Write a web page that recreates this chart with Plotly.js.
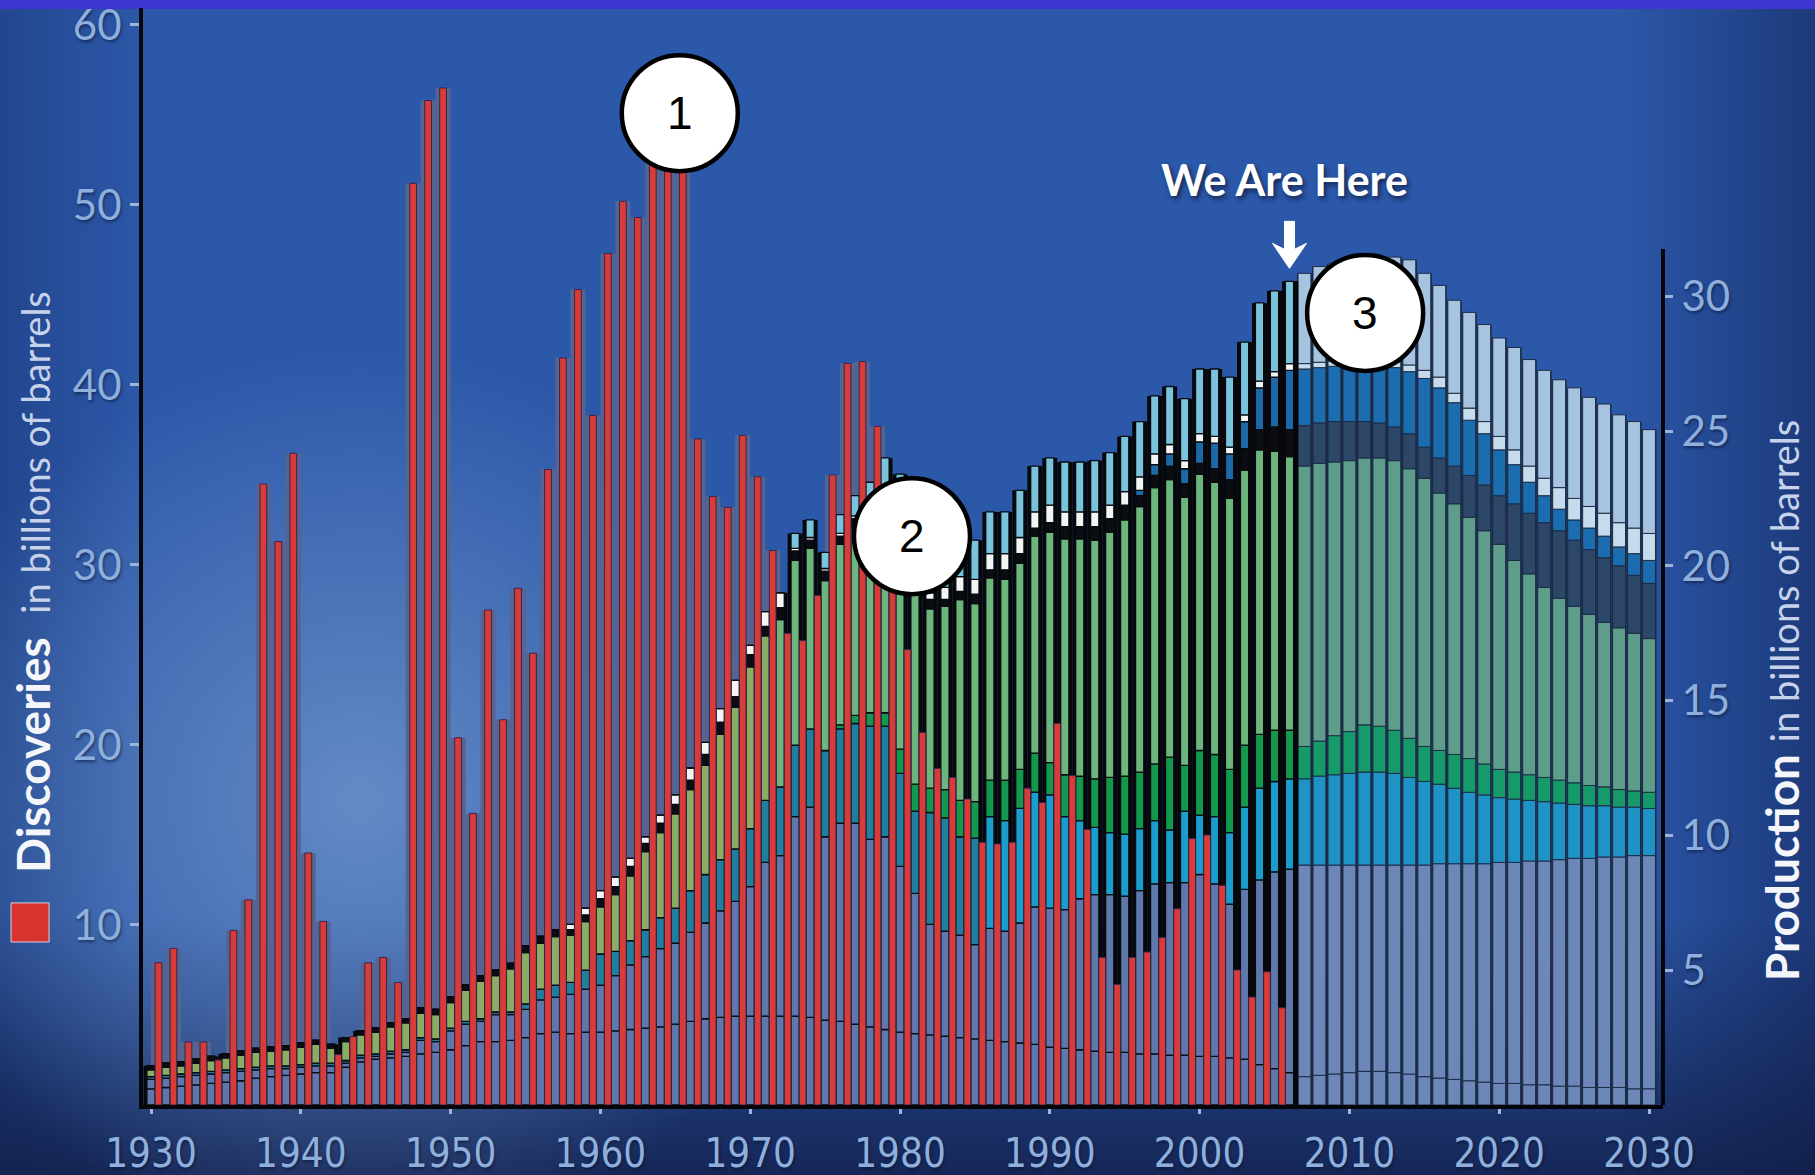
<!DOCTYPE html>
<html>
<head>
<meta charset="utf-8">
<script src="https://cdn.plot.ly/plotly-3.0.1.min.js"></script>
<style>
  html, body { margin: 0; padding: 0; }
  body {
    width: 1815px; height: 1175px; overflow: hidden;
    background:
      linear-gradient(to bottom, #3b37cf 0, #3b37cf 9px, rgba(0,0,0,0) 9px),
      radial-gradient(ellipse 620px 600px at 360px 800px, rgba(135,170,215,0.62), rgba(135,170,215,0) 75%),
      linear-gradient(to bottom, rgba(0,0,0,0) 0%, rgba(0,0,0,0) 78%, rgba(14,22,58,0.75) 100%),
      linear-gradient(to right, rgba(12,30,80,0.3) 0%, rgba(0,0,0,0) 8%, rgba(0,0,0,0) 89%, rgba(14,28,78,0.5) 100%),
      #2c58a9;
  }
  #chart { width: 1815px; height: 1175px; }
</style>
</head>
<body>
<div id="chart"></div>
<script>
// ---- years ----
const productionYears = [
  1930,1931,1932,1933,1934,1935,1936,1937,1938,1939,
  1940,1941,1942,1943,1944,1945,1946,1947,1948,1949,
  1950,1951,1952,1953,1954,1955,1956,1957,1958,1959,
  1960,1961,1962,1963,1964,1965,1966,1967,1968,1969,
  1970,1971,1972,1973,1974,1975,1976,1977,1978,1979,
  1980,1981,1982,1983,1984,1985,1986,1987,1988,1989,
  1990,1991,1992,1993,1994,1995,1996,1997,1998,1999,
  2000,2001,2002,2003,2004,2005,2006,
  2007,2008,2009,2010,2011,2012,2013,2014,2015,2016,2017,2018,2019,
  2020,2021,2022,2023,2024,2025,2026,2027,2028,2029,2030
];
const lastActualYear = 2006;

const discoveryYears = [
  1930,1931,1932,1933,1934,1935,1936,1937,1938,1939,
  1940,1941,1942,1943,1944,1945,1946,1947,1948,1949,
  1950,1951,1952,1953,1954,1955,1956,1957,1958,1959,
  1960,1961,1962,1963,1964,1965,1966,1967,1968,1969,
  1970,1971,1972,1973,1974,1975,1976,1977,1978,1979,
  1980,1981,1982,1983,1984,1985,1986,1987,1988,1989,
  1990,1991,1992,1993,1994,1995,1996,1997,1998,1999,
  2000,2001,2002,2003,2004,2005
];

// ---- discoveries, billions of barrels ----
const discoveries = [
  7.9,8.7,3.5,3.5,2.5,9.7,11.4,34.5,31.3,36.2,
  14.0,10.2,2.8,3.8,7.9,8.2,6.8,51.2,55.8,56.5,
  20.4,16.2,27.5,21.4,28.7,25.1,35.3,41.5,45.3,38.3,
  47.3,50.2,49.3,54.0,55.0,53.5,37.0,33.8,33.2,37.2,
  34.9,30.8,26.2,25.8,28.3,35.0,41.2,41.3,37.7,30.0,
  25.3,20.7,18.7,18.2,17.0,14.6,14.5,14.6,17.6,16.8,
  21.2,18.3,15.3,8.2,6.7,8.2,8.5,9.3,10.9,14.8,
  15.0,12.2,7.5,6.0,7.4,5.4
];

// ---- production, billions of barrels: upper edge of each stacked band ----
const slateLowTop = [
  0.6,0.65,0.7,0.75,0.8,0.85,0.9,1.0,1.05,1.1,
  1.15,1.2,1.2,1.4,1.6,1.7,1.75,1.8,1.9,1.95,
  2.05,2.2,2.35,2.35,2.4,2.5,2.65,2.7,2.65,2.7,
  2.7,2.75,2.8,2.85,2.9,3.0,3.1,3.2,3.25,3.3,
  3.3,3.3,3.3,3.3,3.25,3.15,3.1,3.0,2.9,2.8,
  2.7,2.65,2.6,2.55,2.5,2.45,2.4,2.35,2.3,2.25,
  2.15,2.1,2.05,2.0,1.95,1.95,1.9,1.9,1.85,1.85,
  1.8,1.8,1.75,1.7,1.5,1.35,1.2,
  1.05,1.1,1.15,1.2,1.25,1.25,1.2,1.15,1.05,1.0,0.95,0.9,0.85,
  0.8,0.8,0.75,0.75,0.7,0.7,0.65,0.65,0.65,0.6,0.6
];
const slateTop = [
  0.95,1.0,1.05,1.1,1.15,1.2,1.25,1.3,1.35,1.35,
  1.4,1.45,1.45,1.55,1.75,1.8,1.9,1.95,2.4,2.35,
  2.75,3.0,3.1,3.35,3.35,3.55,3.9,4.0,4.1,4.3,
  4.45,4.8,5.2,5.5,5.8,6.0,6.4,6.75,7.2,7.55,
  8.1,9.0,9.25,10.7,11.05,9.95,10.45,10.45,9.85,9.95,
  8.85,7.85,6.7,6.45,6.3,5.95,6.55,6.45,6.75,7.35,
  7.3,7.25,7.65,7.8,7.8,7.75,7.95,8.2,8.25,8.25,
  8.55,8.2,7.45,8.0,8.35,8.65,8.75,
  8.9,8.9,8.9,8.9,8.9,8.9,8.9,8.9,8.9,8.95,8.95,8.95,8.95,
  9.0,9.0,9.05,9.05,9.1,9.15,9.15,9.2,9.2,9.25,9.25
];
const tealTop = [
  1.05,1.1,1.15,1.2,1.25,1.3,1.35,1.4,1.45,1.45,
  1.5,1.55,1.55,1.65,1.85,1.9,2.0,2.05,2.5,2.45,
  2.85,3.1,3.2,3.45,3.45,3.75,4.3,4.45,4.55,5.0,
  5.6,5.7,6.1,6.5,6.95,7.3,7.95,8.55,9.1,9.5,
  10.25,11.3,11.8,13.35,13.95,13.15,13.95,14.15,14.05,14.05,
  12.3,10.9,10.85,10.65,9.95,9.9,10.7,10.55,11.0,11.6,
  11.5,10.7,10.55,10.3,10.1,10.05,10.25,10.55,10.2,10.9,
  10.75,10.7,10.1,11.05,11.75,12.0,12.1,
  12.1,12.2,12.25,12.3,12.35,12.35,12.3,12.15,12.0,11.9,11.75,11.6,11.5,
  11.4,11.35,11.3,11.25,11.2,11.15,11.1,11.1,11.05,11.05,11.0
];
const darkGreenTop = [
  1.05,1.1,1.15,1.2,1.25,1.3,1.35,1.4,1.45,1.45,
  1.5,1.55,1.55,1.65,1.85,1.9,2.0,2.05,2.5,2.45,
  2.85,3.1,3.2,3.45,3.45,3.75,4.3,4.45,4.55,5.0,
  5.6,5.7,6.1,6.5,6.95,7.3,7.95,8.55,9.1,9.5,
  10.25,11.3,11.8,13.35,13.95,13.15,14.1,14.45,14.55,14.55,
  13.2,11.9,11.75,11.7,11.3,11.25,12.05,12.05,12.45,13.05,
  12.7,12.25,12.2,12.1,12.15,12.2,12.35,12.65,12.9,12.6,
  13.15,13.0,12.45,13.35,13.75,13.9,13.9,
  13.3,13.5,13.7,13.85,14.1,14.05,13.9,13.6,13.3,13.15,13.0,12.85,12.65,
  12.45,12.35,12.25,12.15,12.05,11.95,11.85,11.8,11.7,11.65,11.6
];
const lightGreenTop = [
  1.3,1.4,1.45,1.55,1.65,1.75,1.85,1.95,2.0,2.05,
  2.15,2.25,2.1,2.35,2.6,2.7,2.9,3.05,3.4,3.35,
  3.8,4.25,4.6,4.8,5.05,5.65,6.0,6.25,6.3,6.8,
  7.35,7.8,8.5,9.4,10.1,10.8,11.7,12.6,13.75,14.75,
  16.25,17.4,18.0,20.2,20.65,19.45,20.8,21.4,21.9,22.55,
  21.6,20.2,18.4,18.5,18.75,18.6,19.55,19.5,20.1,21.1,
  21.25,21.0,21.0,20.95,21.25,21.7,22.2,22.9,23.2,22.55,
  23.4,23.1,22.5,23.55,24.3,24.25,24.05,
  23.7,23.8,23.85,23.9,24.0,24.0,23.9,23.6,23.25,22.7,22.3,21.8,21.3,
  20.8,20.2,19.7,19.2,18.8,18.5,18.2,17.9,17.7,17.5,17.3
];
const blackTop = [
  1.45,1.55,1.6,1.7,1.8,1.9,2.0,2.1,2.15,2.2,
  2.3,2.4,2.25,2.5,2.75,2.85,3.05,3.2,3.6,3.55,
  4.0,4.45,4.8,5.0,5.25,5.9,6.25,6.5,6.5,7.05,
  7.65,8.1,8.85,9.7,10.45,11.15,12.05,13.0,14.2,15.15,
  16.7,17.75,18.45,20.55,20.95,19.8,21.1,21.75,22.25,22.9,
  21.95,20.55,18.75,18.75,19.05,18.95,19.85,19.85,20.45,21.4,
  21.6,21.45,21.45,21.45,21.75,22.25,22.6,23.35,23.7,23.05,
  23.8,23.6,23.2,24.35,25.05,25.15,25.05,
  25.2,25.3,25.35,25.35,25.35,25.3,25.15,24.9,24.4,24.0,23.7,23.35,23.0,
  22.6,22.3,21.95,21.6,21.3,20.95,20.6,20.3,20.0,19.65,19.35
];
const blueTop = [
  1.45,1.55,1.6,1.7,1.8,1.9,2.0,2.1,2.15,2.2,
  2.3,2.4,2.25,2.5,2.75,2.85,3.05,3.2,3.6,3.55,
  4.0,4.45,4.8,5.0,5.25,5.9,6.25,6.5,6.5,7.05,
  7.65,8.1,8.85,9.7,10.45,11.15,12.05,13.0,14.2,15.15,
  16.7,17.75,18.45,20.55,20.95,19.8,21.1,21.75,22.25,22.9,
  21.95,20.55,18.75,18.75,19.05,18.95,19.85,19.85,20.45,21.4,
  21.6,21.45,21.45,21.45,21.75,22.25,22.8,23.75,24.15,23.6,
  24.6,24.55,24.15,25.35,26.6,27.0,27.25,
  27.3,27.35,27.4,27.4,27.4,27.4,27.35,27.2,26.95,26.6,26.05,25.4,24.9,
  24.3,23.75,23.1,22.6,22.1,21.7,21.4,21.1,20.7,20.45,20.2
];
const whiteTop = [
  1.45,1.55,1.6,1.7,1.8,1.9,2.0,2.1,2.15,2.2,
  2.3,2.4,2.25,2.5,2.75,2.85,3.05,3.2,3.6,3.55,
  4.0,4.45,4.8,5.0,5.25,5.9,6.25,6.5,6.7,7.3,
  7.95,8.45,9.15,9.95,10.75,11.5,12.5,13.45,14.7,15.75,
  17.05,18.3,19.0,20.65,21.05,19.9,21.2,21.85,22.35,23.0,
  22.2,20.8,19.0,19.2,19.6,19.5,20.45,20.45,21.05,22.0,
  22.25,22.0,22.0,22.0,22.25,22.75,23.3,24.15,24.5,23.9,
  24.9,24.8,24.4,25.6,26.85,27.2,27.5,
  27.5,27.55,27.6,27.6,27.6,27.6,27.55,27.45,27.25,27.0,26.4,25.85,25.35,
  24.8,24.3,23.7,23.25,22.9,22.5,22.2,21.95,21.6,21.4,21.2
];
const totalProduction = [
  1.45,1.55,1.6,1.7,1.8,1.9,2.0,2.1,2.15,2.2,
  2.3,2.4,2.25,2.5,2.75,2.85,3.05,3.2,3.6,3.55,
  4.0,4.45,4.8,5.0,5.25,5.9,6.25,6.5,6.7,7.3,
  7.95,8.45,9.15,9.95,10.75,11.5,12.5,13.45,14.7,15.75,
  17.05,18.3,19.0,21.2,21.7,20.5,21.9,22.6,23.1,24.0,
  23.4,22.0,20.3,20.5,20.85,20.95,22.0,22.0,22.8,23.7,
  24.0,23.85,23.85,23.9,24.2,24.8,25.35,26.3,26.65,26.2,
  27.3,27.3,27.0,28.3,29.75,30.2,30.55,
  30.85,31.1,31.2,31.3,31.35,31.4,31.45,31.35,30.85,30.4,29.85,29.4,28.95,
  28.45,28.1,27.65,27.25,26.9,26.6,26.25,26.0,25.6,25.35,25.05
];

// ---- axis ticks ----
const decadeTicks = [1930,1940,1950,1960,1970,1980,1990,2000,2010,2020,2030];
const discoveryTicks = [10,20,30,40,50,60];
const productionTicks = [5,10,15,20,25,30];

// ---- styling ----
const isForecast = productionYears.map(y => y > lastActualYear);
const histWidth = 0.55, projWidth = 0.86;
const prodWidths = isForecast.map(f => f ? projWidth : histWidth);
const prodOffsets = prodWidths.map(w => -w / 2);
const lineColors = isForecast.map(f => f ? '#1d2c46' : '#07090d');
const lineWidths = isForecast.map(f => f ? 1 : 1.3);

const bands = [
  { top: slateLowTop,   color: y => y > lastActualYear ? '#6d88b8' : '#5d78a9' },
  { top: slateTop,      color: y => y > lastActualYear ? '#6d88b8' : '#5d78a9' },
  { top: tealTop,       color: y => y > lastActualYear ? '#1f93c5' : (y < 1986 ? '#1e809d' : '#1a9dcc') },
  { top: darkGreenTop,  color: y => y > lastActualYear ? '#169a69' : '#12994d' },
  { top: lightGreenTop, color: y => y > lastActualYear ? '#5f9d8b' : (y < 1972 ? '#8aad66' : '#6cb67e') },
  { top: blackTop,      color: y => y > lastActualYear ? '#2c4767' : '#0b0d12' },
  { top: blueTop,       color: y => y > lastActualYear ? '#1c6daf' : '#1b69a6' },
  { top: whiteTop,      color: y => y > lastActualYear ? '#c6dbeb' : '#f3f5f5' },
  { top: totalProduction, color: y => y > lastActualYear ? '#a6c3df' : '#79c3dd' }
];

const traces = [];

// soft dark band between tall discovery bars (main subplot, drawn first)
traces.push({
  type: 'bar', x: discoveryYears, y: discoveries, yaxis: 'y',
  width: 1.0, offset: 0,
  marker: { color: '#56658f', line: { width: 0 } },
  hoverinfo: 'skip'
});

// dark backing behind the production columns
traces.push({
  type: 'bar', x: productionYears, y: totalProduction, yaxis: 'y2',
  width: 1.0, offset: -0.5,
  marker: { color: isForecast.map(f => f ? '#1c2a44' : '#06080c'), line: { width: 0 } },
  hoverinfo: 'skip'
});

// stacked production bands
let lower = productionYears.map(() => 0);
bands.forEach(b => {
  traces.push({
    type: 'bar', x: productionYears, yaxis: 'y2',
    base: lower.slice(),
    y: b.top.map((v, i) => v - lower[i]),
    width: prodWidths, offset: prodOffsets,
    marker: {
      color: productionYears.map(b.color),
      line: { color: lineColors, width: lineWidths }
    },
    hoverinfo: 'skip'
  });
  lower = b.top;
});

// discovery bars, on top
traces.push({
  type: 'bar', x: discoveryYears, y: discoveries, yaxis: 'y3',
  width: 0.45, offset: 0.275,
  marker: { color: '#d93b37', line: { color: '#3a2350', width: 1 } },
  hoverinfo: 'skip'
});

const tickFontX = { family: 'DejaVu Sans Condensed, Liberation Sans Narrow, sans-serif', size: 40, color: '#8fb0dc', shadow: '1px 2px 3px rgba(8,16,50,0.55)' };
const tickFontY = { family: 'Lato, sans-serif', size: 42, color: '#8fb0dc', shadow: '1px 2px 3px rgba(8,16,50,0.55)' };
const lastIdx = productionYears.indexOf(lastActualYear);

const circle = (x, y) => ({
  type: 'circle', xref: 'x', yref: 'y', layer: 'above',
  xsizemode: 'pixel', ysizemode: 'pixel', xanchor: x, yanchor: y,
  x0: -58, x1: 58, y0: -58, y1: 58,
  fillcolor: '#ffffff', line: { color: '#000000', width: 4.5 }
});
const circleLabel = (x, y, t) => ({
  x: x, y: y, xref: 'x', yref: 'y', text: t, showarrow: false,
  xanchor: 'center', yanchor: 'middle',
  font: { family: 'Liberation Sans, Arial, sans-serif', size: 46, color: '#000000' }
});

const markers = [
  { x: 1965.3, y: 55.1, label: '1' },
  { x: 1980.8, y: 31.6, label: '2' },
  { x: 2011.05, y: 44.0, label: '3' }
];

const layout = {
  width: 1815, height: 1175,
  margin: { l: 143, r: 152, t: 8, b: 70, pad: 0 },
  paper_bgcolor: 'rgba(0,0,0,0)', plot_bgcolor: 'rgba(0,0,0,0)',
  barmode: 'overlay', showlegend: false, hovermode: false,
  xaxis: {
    range: [1929.466, 2030.934], tickvals: decadeTicks,
    showline: true, linecolor: '#04060a', linewidth: 4,
    ticks: 'outside', ticklen: 5, tickwidth: 3, tickcolor: '#9db5dc',
    tickfont: tickFontX, showgrid: false, zeroline: false, fixedrange: true,
    ticklabelstandoff: 5, ticklabeloverflow: 'allow'
  },
  yaxis: {
    range: [0, 60.94], tickvals: discoveryTicks, side: 'left',
    showline: true, linecolor: '#04060a', linewidth: 4,
    ticks: 'outside', ticklen: 9, tickwidth: 3, tickcolor: '#9cb4da',
    tickfont: tickFontY, showgrid: false, zeroline: false, fixedrange: true,
    ticklabeloverflow: 'allow'
  },
  yaxis2: {
    range: [0, 40.69], overlaying: 'y', side: 'right', tickvals: productionTicks,
    showline: false, ticks: 'outside', ticklen: 9, tickwidth: 3, tickcolor: '#9cb4da',
    tickfont: tickFontY, showgrid: false, zeroline: false, fixedrange: true
  },
  yaxis3: { range: [0, 60.94], overlaying: 'y', visible: false, fixedrange: true },
  shapes: [
    // production axis spine
    { type: 'line', xref: 'paper', yref: 'y2', x0: 1, x1: 1, y0: 0, y1: 31.75,
      line: { color: '#04060a', width: 4 } },
    // boundary between recorded and projected production
    { type: 'line', xref: 'x', yref: 'y2', x0: lastActualYear + 0.5, x1: lastActualYear + 0.5,
      y0: 0, y1: totalProduction[lastIdx], line: { color: '#04060a', width: 2.5 } },
    // legend swatch for discoveries
    { type: 'rect', xref: 'paper', yref: 'paper', x0: -0.0868, x1: -0.0618, y0: 0.1486, y1: 0.1842,
      fillcolor: '#d8332f', line: { color: '#d8d0d8', width: 1 } },
    // "we are here" arrow
    { type: 'path', xref: 'x', yref: 'y2', xsizemode: 'pixel', ysizemode: 'pixel',
      xanchor: lastActualYear, yanchor: totalProduction[lastIdx], layer: 'above',
      path: 'M 0 13 L -17 38 L -5 32 L -5 60 L 5 60 L 5 32 L 17 38 Z',
      fillcolor: '#ffffff', line: { color: '#ffffff', width: 1 } }
  ].concat(markers.map(m => circle(m.x, m.y))),
  annotations: [
    { xref: 'paper', yref: 'paper', x: -0.0724, y: 0.4768, textangle: -90, showarrow: false,
      xanchor: 'center', yanchor: 'middle',
      text: '<b>Discoveries</b>  <span style="font-weight:normal;font-size:38px;color:#c6d3ea">in billions of barrels</span>',
      font: { family: 'Lato, sans-serif', size: 46, color: '#f4f6fa' } },
    { xref: 'paper', yref: 'paper', x: 1.0776, y: 0.369, textangle: -90, showarrow: false,
      xanchor: 'center', yanchor: 'middle',
      text: '<b>Production</b> <span style="font-weight:normal;font-size:38px;color:#c6d3ea">in billions of barrels</span>',
      font: { family: 'Lato, sans-serif', size: 46, color: '#f4f6fa' } },
    { x: 2005.67, y: 51.44, xref: 'x', yref: 'y', text: '<b>We Are Here</b>', showarrow: false,
      xanchor: 'center', yanchor: 'middle',
      font: { family: 'Lato, sans-serif', size: 43, color: '#ffffff', shadow: '2px 3px 5px rgba(0,0,20,0.6)' } }
  ].concat(markers.map(m => circleLabel(m.x, m.y, m.label)))
};

Plotly.newPlot('chart', traces, layout, { displayModeBar: false, staticPlot: true });
</script>
</body>
</html>
